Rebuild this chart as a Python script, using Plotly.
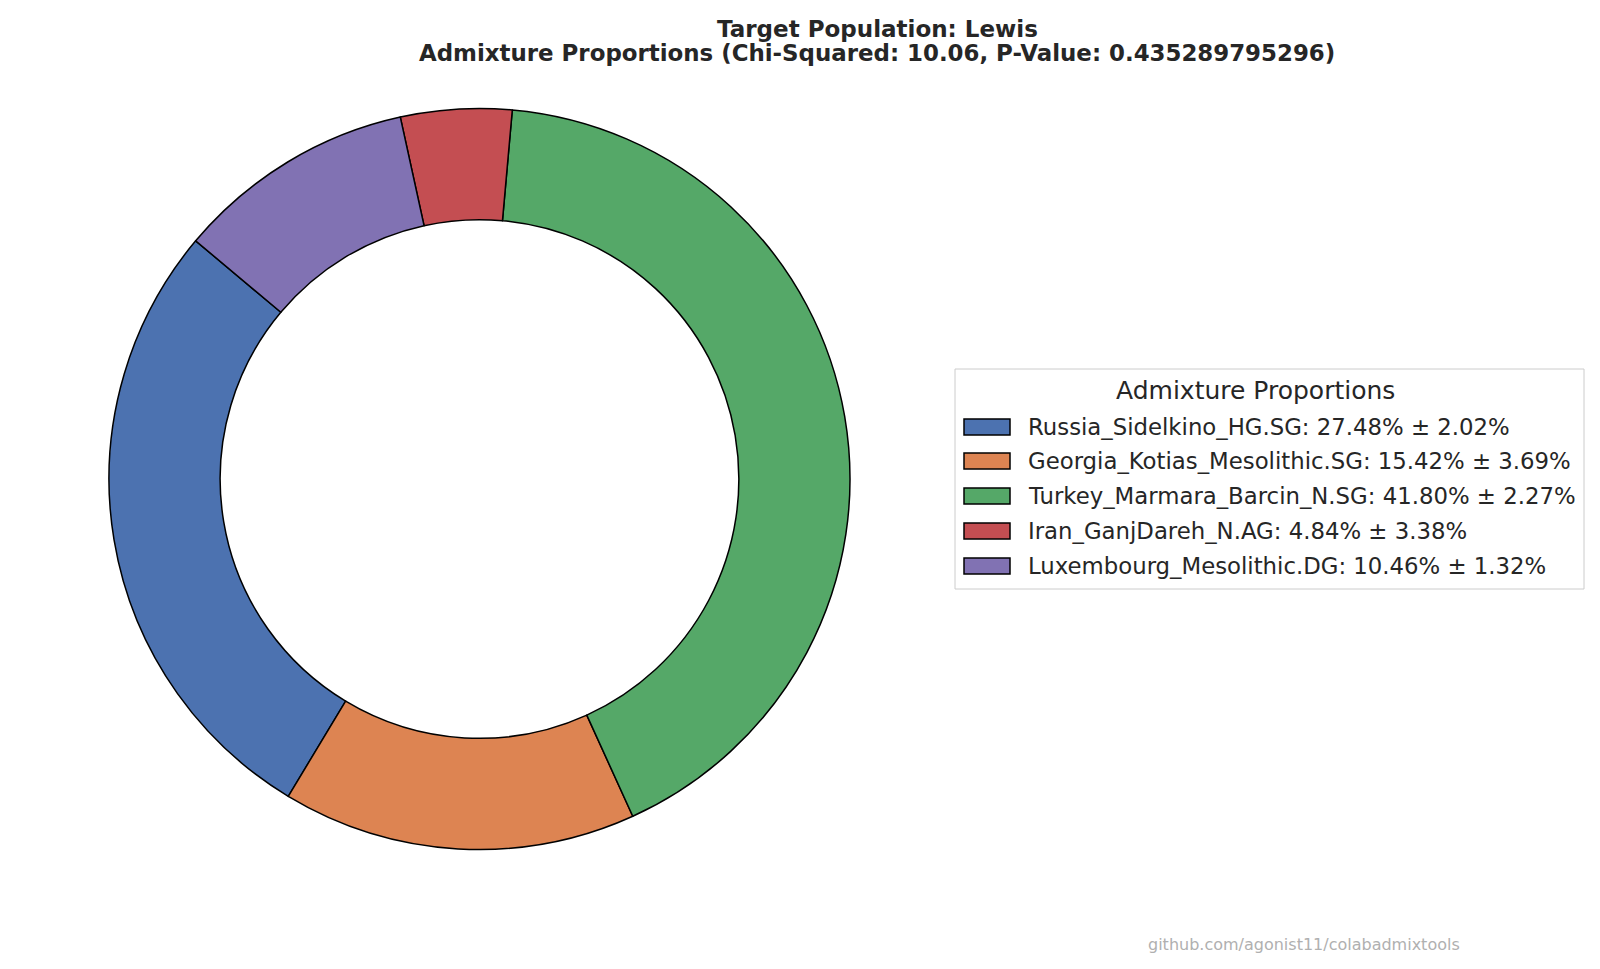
import plotly.graph_objects as go

# ---- data ----
populations = [
    "Russia_Sidelkino_HG.SG",
    "Georgia_Kotias_Mesolithic.SG",
    "Turkey_Marmara_Barcin_N.SG",
    "Iran_GanjDareh_N.AG",
    "Luxembourg_Mesolithic.DG",
]
proportions = [27.48, 15.42, 41.80, 4.84, 10.46]
std_errors = [2.02, 3.69, 2.27, 3.38, 1.32]
colors = ["#4C72B0", "#DD8452", "#55A868", "#C44E52", "#8172B3"]

target = "Lewis"
chi_squared = 10.06
p_value = "0.435289795296"

W, H = 1600, 969
FONT = "DejaVu Sans"

legend_labels = [f"{p}: {v:.2f}% ± {e:.2f}%" for p, v, e in zip(populations, proportions, std_errors)]

# pie geometry (pixels)
cx, cy, R = 479.5, 479.0, 370.5
start_angle = 140  # math angle (deg, counterclockwise from 3 o'clock) where first slice begins
# plotly (counterclockwise) places the end of the first slice at `rotation` (clockwise from 12 o'clock)
rotation = -(start_angle - 90) - proportions[0] / sum(proportions) * 360

fig = go.Figure()
fig.add_trace(go.Pie(
    labels=populations,
    values=proportions,
    hole=0.70,
    sort=False,
    direction="counterclockwise",
    rotation=rotation,
    marker=dict(colors=colors, line=dict(color="black", width=1.5)),
    textinfo="none",
    hoverinfo="label+percent",
    showlegend=False,
    domain=dict(x=[(cx - R) / W, (cx + R) / W], y=[(H - cy - R) / H, (H - cy + R) / H]),
))

def px(x):
    return x / W

def py(y):
    return 1 - y / H

shapes = []
annotations = []

# titles
annotations.append(dict(x=px(877), y=py(28.5), xref="paper", yref="paper", xanchor="center", yanchor="middle",
                        text="<b>Target Population: " + target + "</b>", showarrow=False,
                        font=dict(family=FONT, size=23, color="#262626")))
annotations.append(dict(x=px(877), y=py(53), xref="paper", yref="paper", xanchor="center", yanchor="middle",
                        text=f"<b>Admixture Proportions (Chi-Squared: {chi_squared:.2f}, P-Value: {p_value})</b>",
                        showarrow=False, font=dict(family=FONT, size=22.9, color="#262626")))

# custom legend box
shapes.append(dict(type="rect", xref="paper", yref="paper", x0=px(955), x1=px(1584), y0=py(589), y1=py(369),
                   line=dict(color="#cccccc", width=1), fillcolor="rgba(255,255,255,0.8)", layer="above"))
annotations.append(dict(x=px(1255), y=py(391), xref="paper", yref="paper", xanchor="center", yanchor="middle",
                        text="Admixture Proportions", showarrow=False,
                        font=dict(family=FONT, size=25, color="#262626")))
row_y = [427, 461, 496, 531, 566]
for i, (lab, col) in enumerate(zip(legend_labels, colors)):
    yc = row_y[i]
    shapes.append(dict(type="rect", xref="paper", yref="paper", x0=px(964), x1=px(1010),
                       y0=py(yc + 8), y1=py(yc - 8), line=dict(color="black", width=1.5),
                       fillcolor=col, layer="above"))
    annotations.append(dict(x=px(1026), y=py(yc), xref="paper", yref="paper", xanchor="left", yanchor="middle",
                            text=lab, showarrow=False, font=dict(family=FONT, size=22.8, color="#262626")))

# watermark
annotations.append(dict(x=px(1304), y=py(944), xref="paper", yref="paper", xanchor="center", yanchor="middle",
                        text="github.com/agonist11/colabadmixtools", showarrow=False,
                        font=dict(family=FONT, size=16, color="#b0b0b0")))

fig.update_layout(
    width=W, height=H,
    margin=dict(l=0, r=0, t=0, b=0),
    paper_bgcolor="white",
    plot_bgcolor="white",
    shapes=shapes,
    annotations=annotations,
    showlegend=False,
)

fig.write_html("out.html")
